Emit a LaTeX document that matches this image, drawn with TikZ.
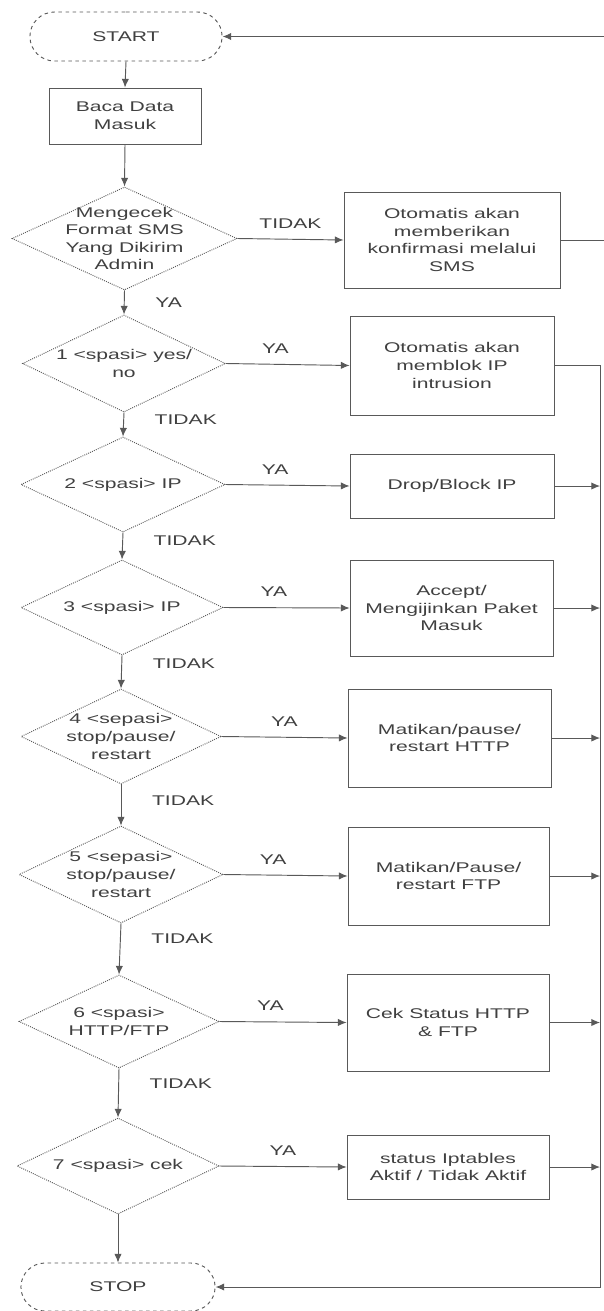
\documentclass[tikz,border=0pt]{standalone}
\usepackage{fontspec}
\setmainfont{Liberation Sans}[FakeStretch=1.5]
\usepackage{tikz}
\usetikzlibrary{shapes.geometric, shapes.misc, arrows.meta}
\definecolor{ink}{gray}{0.25}
\definecolor{wire}{gray}{0.35}
\tikzset{every node/.style={font=\fontsize{12}{15}\selectfont, text=ink, align=center},
    wh/.style 2 args={minimum width=#1*0.03cm, minimum height=#2*0.03cm},
    terminal/.style={draw=wire, dashed, line width=0.8pt, rounded rectangle, wh={200}{49}},
    process/.style={draw=wire, line width=0.8pt, rectangle, inner sep=0pt},
    decision/.style={draw=wire, densely dotted, line width=0.8pt, diamond, inner sep=0pt},
    flow/.style={draw=wire, line width=0.8pt, -{Latex[length=2.6mm, width=2.2mm]}},
    ya/.style={anchor=south, yshift=0.2cm},
    tidak/.style={anchor=west, xshift=0.8cm}}

\begin{document}
\begin{tikzpicture}[x=0.03cm, y=-0.03cm]
    \useasboundingbox (0,0) rectangle (603,1311);
    % main column
    \node[terminal] (start) at (126,36.5) {START};
    \node[process, wh={152}{56}] (baca) at (125,116) {Baca Data\\Masuk};
    \node[decision, wh={225}{103},
        label={center:{Mengecek\\Format SMS\\Yang Dikirim\\Admin}}] (format) at (124.5,238.5) {};
    \node[decision, wh={203}{97}, label={center:{1 <spasi> yes/\\no}}] (opt1) at (124,363.5) {};
    \node[decision, wh={204}{95}, label={center:{2 <spasi> IP}}] (opt2) at (123,484.5) {};
    \node[decision, wh={202}{95}, label={center:{3 <spasi> IP}}] (opt3) at (122,607.5) {};
    \node[decision, wh={200}{95},
        label={center:{4 <sepasi>\\stop/pause/\\restart}}] (opt4) at (121,736.5) {};
    \node[decision, wh={204}{97},
        label={center:{5 <sepasi>\\stop/pause/\\restart}}] (opt5) at (121,874.5) {};
    \node[decision, wh={200}{93}, label={center:{6 <spasi>\\HTTP/FTP}}] (opt6) at (119,1021.5) {};
    \node[decision, wh={202}{96}, label={center:{7 <spasi> cek}}] (opt7) at (118,1166) {};
    \node[terminal, wh={202}{48}] (stop) at (118,1287) {STOP};

    % action boxes
    \node[process, wh={216}{96}] (konfirmasi) at (452,240)
        {Otomatis akan\\memberikan\\konfirmasi melalui\\SMS};
    \node[process, wh={204}{99}] (blokir) at (452,365.5) {Otomatis akan\\memblok IP\\intrusion};
    \node[process, wh={204}{64}] (drop) at (452,486) {Drop/Block IP};
    \node[process, wh={203}{96}] (accept) at (451.5,608) {Accept/\\Mengijinkan Paket\\Masuk};
    \node[process, wh={203}{98}] (http) at (449.5,738) {Matikan/pause/\\restart HTTP};
    \node[process, wh={201}{98}] (ftp) at (448.5,876) {Matikan/Pause/\\restart FTP};
    \node[process, wh={202}{97}] (status) at (448,1022.5) {Cek Status HTTP\\\& FTP};
    \node[process, wh={202}{64}] (iptables) at (448,1167) {status Iptables\\Aktif / Tidak Aktif};
    \coordinate (bus) at (600,0);

    % connectors
    \draw[flow] (start.south) -- (baca.north);
    \draw[flow] (baca.south) -- (format.north);
    \draw[flow] (format.east) -- node[ya, pos=.5] {TIDAK} (konfirmasi.west);
    \draw[flow] (format.south) -- node[tidak, pos=.5] {YA} (opt1.north);
    \draw[flow] (opt1.east) -- node[ya, pos=.4] {YA} (blokir.west);
    \draw[flow] (opt1.south) -- node[tidak, pos=.3] {TIDAK} (opt2.north);
    \draw[flow] (opt2.east) -- node[ya, pos=.4] {YA} (drop.west);
    \draw[flow] (opt2.south) -- node[tidak, pos=.3] {TIDAK} (opt3.north);
    \draw[flow] (opt3.east) -- node[ya, pos=.4] {YA} (accept.west);
    \draw[flow] (opt3.south) -- node[tidak, pos=.25] {TIDAK} (opt4.north);
    \draw[flow] (opt4.east) -- node[ya, pos=.5] {YA} (http.west);
    \draw[flow] (opt4.south) -- node[tidak, pos=.4] {TIDAK} (opt5.north);
    \draw[flow] (opt5.east) -- node[ya, pos=.4] {YA} (ftp.west);
    \draw[flow] (opt5.south) -- node[tidak, pos=.3] {TIDAK} (opt6.north);
    \draw[flow] (opt6.east) -- node[ya, pos=.4] {YA} (status.west);
    \draw[flow] (opt6.south) -- node[tidak, pos=.3] {TIDAK} (opt7.north);
    \draw[flow] (opt7.east) -- node[ya, pos=.5] {YA} (iptables.west);
    \draw[flow] (opt7.south) -- (stop.north);

    % back to start / to stop
    \draw[flow] (konfirmasi.east) -- ++(70,0) |- (start.east);
    \draw[flow] (blokir.east) -- (blokir.east -| bus) |- (stop.east);
    \draw[flow] (drop.east) -- (drop.east -| bus);
    \draw[flow] (accept.east) -- (accept.east -| bus);
    \draw[flow] (http.east) -- (http.east -| bus);
    \draw[flow] (ftp.east) -- (ftp.east -| bus);
    \draw[flow] (status.east) -- (status.east -| bus);
    \draw[flow] (iptables.east) -- (iptables.east -| bus);
\end{tikzpicture}
\end{document}
